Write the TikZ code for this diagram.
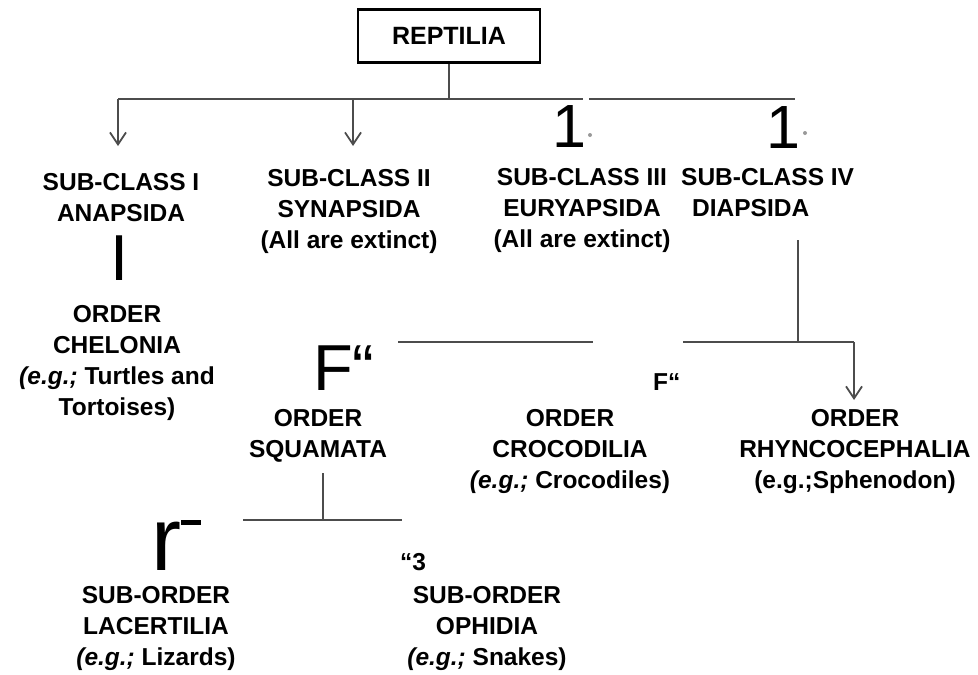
\documentclass[tikz,border=0pt]{standalone}
\usepackage{fontspec}
\setmainfont{Liberation Sans}
\usetikzlibrary{arrows.meta}
\newcommand{\egit}{\textit{(e.g.;}}

\begin{document}
\begin{tikzpicture}[x=1pt,y=-1pt,
  taxon/.style={anchor=north, align=center, inner sep=0pt, font=\fontsize{24.5}{31}\selectfont\bfseries},
  glyph/.style={anchor=base west, inner sep=0pt, font=\fontsize{65}{65}\selectfont},
  conn/.style={draw=black!70, line width=1.8pt},
  arr/.style={conn, -{Straight Barb[length=12pt,width=16pt]}}]
\useasboundingbox (0,0) rectangle (978,675);
% class
\node[draw, line width=2.7pt, minimum width=182pt, minimum height=53pt, inner sep=0pt,
  font=\fontsize{25}{31}\selectfont\bfseries] (reptilia) at (449,36) {REPTILIA};
\coordinate (hub) at (449,99);
\coordinate (tl) at (118,99); \coordinate (tm) at (353,99); \coordinate (tr) at (795,99);
\coordinate (g1) at (583,99); \coordinate (g2) at (589,99);
\coordinate (a1) at (118,146); \coordinate (a2) at (353,146);
\draw[conn] (reptilia) -- (hub);
\draw[conn] (tl) -- (g1);
\draw[conn] (g2) -- (tr);
\draw[arr] (tl) -- (a1);
\draw[arr] (tm) -- (a2);
\node[glyph, font=\fontsize{61}{61}\selectfont] (one1) at (552,147) {1};
\node[glyph, font=\fontsize{61}{61}\selectfont] (one2) at (766,148) {1};
\fill[black!40] (590,135) circle (2pt) (805,133) circle (2pt);
% sub-classes
\node[taxon] (anapsida) at (121,173) {SUB-CLASS I\\ANAPSIDA};
\node[taxon] (synapsida) at (349,169) {SUB-CLASS II\\SYNAPSIDA\\(All are extinct)};
\node[taxon] (euryapsida) at (582,168) {SUB-CLASS III\\EURYAPSIDA\\(All are extinct)};
\node[taxon, anchor=north west, align=left] (diapsida) at (681,168) {SUB-CLASS IV\\\hspace*{11pt}DIAPSIDA};
\node[glyph] (bigI) at (110,280) {I};
% orders
\node[taxon] (chelonia) at (117,305) {ORDER\\CHELONIA\\\egit{} Turtles and\\Tortoises)};
\node[glyph] (bigF) at (313,390) {F“};
\node[glyph, font=\fontsize{24.5}{31}\selectfont\bfseries] (smallF) at (653,390) {F“};
\coordinate (d1) at (798,240); \coordinate (d2) at (798,342);
\coordinate (h1) at (398,342); \coordinate (h2) at (593,342);
\coordinate (h3) at (683,342); \coordinate (h4) at (854,342);
\coordinate (a3) at (854,400);
\draw[conn] (d1) -- (d2);
\draw[conn] (h1) -- (h2);
\draw[conn] (h3) -- (h4);
\draw[arr] (h4) -- (a3);
\node[taxon] (squamata) at (318,409) {ORDER\\SQUAMATA};
\node[taxon] (crocodilia) at (570,409) {ORDER\\CROCODILIA\\\egit{} Crocodiles)};
\node[taxon] (rhyncocephalia) at (855,409) {ORDER\\RHYNCOCEPHALIA\\(e.g.;Sphenodon)};
% sub-orders
\coordinate (s1) at (323,473); \coordinate (s2) at (323,520);
\coordinate (s3) at (243,520); \coordinate (s4) at (402,520);
\draw[conn] (s1) -- (s2);
\draw[conn] (s3) -- (s4);
\node[glyph, font=\fontsize{90}{90}\selectfont] (bigr) at (151,570) {r\rule[45pt]{20pt}{5pt}};
\node[glyph, font=\fontsize{24.5}{31}\selectfont\bfseries] (three) at (400,570) {“3};
\node[taxon] (lacertilia) at (156,586) {SUB-ORDER\\LACERTILIA\\\egit{} Lizards)};
\node[taxon] (ophidia) at (487,586) {SUB-ORDER\\OPHIDIA\\\egit{} Snakes)};
\end{tikzpicture}
\end{document}
